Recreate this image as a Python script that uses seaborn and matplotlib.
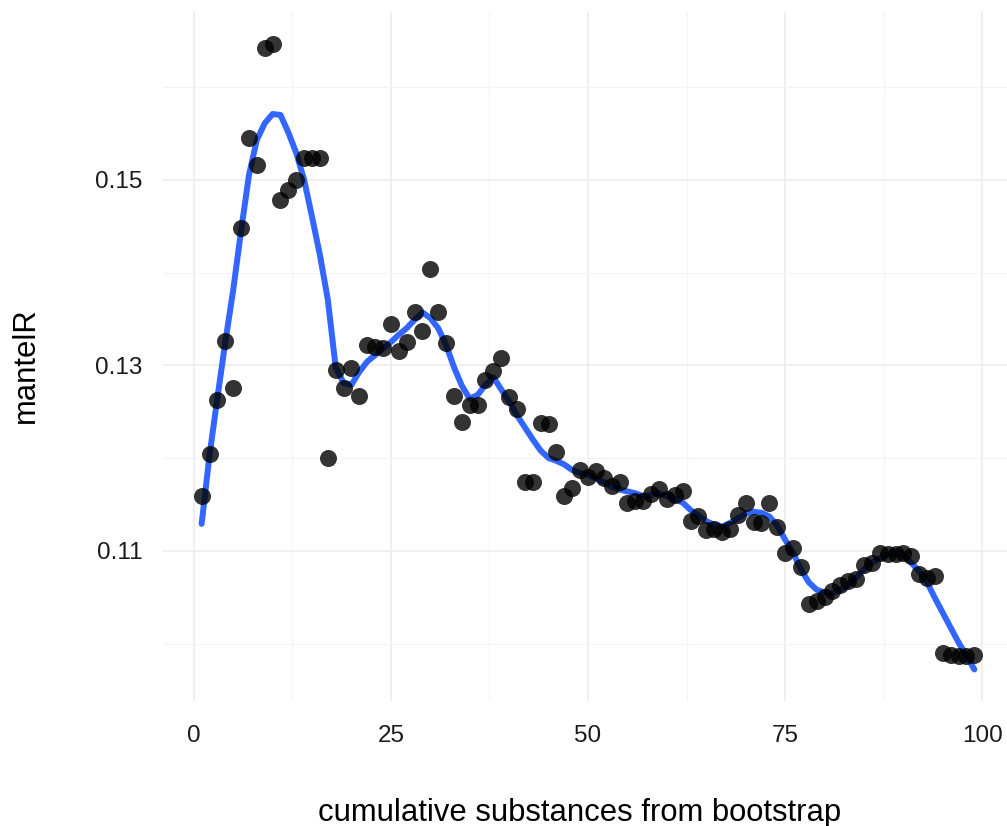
import numpy as np
import pandas as pd
import matplotlib
matplotlib.use("Agg")
import matplotlib.pyplot as plt
import seaborn as sns
from matplotlib.ticker import FixedLocator

# ---- data ----
substances = list(range(1, 100))
mantel_r = [
    0.1159, 0.1204, 0.1263, 0.1326, 0.1275, 0.1448, 0.1545, 0.1516, 0.1642, 0.1647,
    0.1478, 0.1489, 0.1500, 0.1524, 0.1524, 0.1524, 0.1200, 0.1295, 0.1276, 0.1297,
    0.1267, 0.1322, 0.1320, 0.1319, 0.1345, 0.1315, 0.1325, 0.1358, 0.1337, 0.1404,
    0.1357, 0.1324, 0.1267, 0.1239, 0.1257, 0.1257, 0.1284, 0.1294, 0.1308, 0.1266,
    0.1253, 0.1174, 0.1174, 0.1238, 0.1237, 0.1206, 0.1159, 0.1168, 0.1187, 0.1180,
    0.1186, 0.1179, 0.1170, 0.1174, 0.1152, 0.1154, 0.1154, 0.1161, 0.1167, 0.1156,
    0.1160, 0.1164, 0.1132, 0.1138, 0.1122, 0.1123, 0.1120, 0.1124, 0.1139, 0.1152,
    0.1131, 0.1130, 0.1151, 0.1126, 0.1098, 0.1103, 0.1083, 0.1043, 0.1046, 0.1050,
    0.1057, 0.1063, 0.1067, 0.1070, 0.1085, 0.1087, 0.1098, 0.1097, 0.1097, 0.1098,
    0.1094, 0.1075, 0.1071, 0.1073, 0.0990, 0.0988, 0.0987, 0.0986, 0.0988,
]
# smoothed (loess) curve
smooth_x = list(range(1, 100))
smooth_y = [
    0.1129, 0.1203, 0.1265, 0.1325, 0.1381, 0.1445, 0.1505, 0.1543, 0.1561, 0.1571,
    0.1570, 0.1551, 0.1529, 0.1500, 0.1460, 0.1419, 0.1371, 0.1298, 0.1281, 0.1279,
    0.1293, 0.1304, 0.1311, 0.1318, 0.1325, 0.1333, 0.1340, 0.1349, 0.1357, 0.1351,
    0.1340, 0.1322, 0.1298, 0.1278, 0.1264, 0.1268, 0.1279, 0.1287, 0.1274, 0.1261,
    0.1246, 0.1233, 0.1220, 0.1208, 0.1200, 0.1197, 0.1193, 0.1187, 0.1184, 0.1182,
    0.1178, 0.1174, 0.1169, 0.1166, 0.1164, 0.1162, 0.1159, 0.1160, 0.1162, 0.1159,
    0.1156, 0.1152, 0.1144, 0.1138, 0.1132, 0.1128, 0.1126, 0.1130, 0.1135, 0.1140,
    0.1142, 0.1141, 0.1137, 0.1127, 0.1112, 0.1098, 0.1080, 0.1066, 0.1058, 0.1055,
    0.1054, 0.1058, 0.1063, 0.1071, 0.1080, 0.1087, 0.1092, 0.1096, 0.1098, 0.1096,
    0.1087, 0.1078, 0.1066, 0.1049, 0.1033, 0.1017, 0.1001, 0.0987, 0.0972,
]
x_ticks = [0, 25, 50, 75, 100]
x_minor = [12.5, 37.5, 62.5, 87.5]
y_ticks = [0.11, 0.13, 0.15]
y_minor = [0.10, 0.12, 0.14, 0.16]
x_title = "cumulative substances from bootstrap"
y_title = "mantelR"

points = pd.DataFrame({"x": substances, "y": mantel_r})
curve = pd.DataFrame({"x": smooth_x, "y": smooth_y})

sns.set_theme(style="white")
plt.rcParams["font.family"] = ["Liberation Sans", "DejaVu Sans"]

fig = plt.figure(figsize=(10.07, 8.26), dpi=100)
ax = fig.add_axes([163 / 1007, 1 - 701 / 826, 850 / 1007, 689 / 826])

sns.lineplot(data=curve, x="x", y="y", ax=ax, color="#3366FF", linewidth=4.3,
             zorder=3)
sns.scatterplot(data=points, x="x", y="y", ax=ax, color="black", alpha=0.8,
                s=150, linewidth=0, zorder=4)

ax.set_xlim(-3.9, 103.9)
ax.set_ylim(0.0938, 0.1681)
ax.xaxis.set_major_locator(FixedLocator(x_ticks))
ax.xaxis.set_minor_locator(FixedLocator(x_minor))
ax.yaxis.set_major_locator(FixedLocator(y_ticks))
ax.yaxis.set_minor_locator(FixedLocator(y_minor))
ax.set_xticklabels([str(t) for t in x_ticks])
ax.set_yticklabels([f"{t:.2f}" for t in y_ticks])

ax.grid(which="major", color="#EBEBEB", linewidth=1.1)
ax.grid(which="minor", color="#F4F4F4", linewidth=0.8)
ax.set_axisbelow(True)
for s in ax.spines.values():
    s.set_visible(False)
ax.tick_params(axis="both", which="both", length=0, labelsize=17.5,
               labelcolor="#1a1a1a")
ax.tick_params(axis="x", pad=17)
ax.tick_params(axis="y", pad=15)

ax.set_xlabel(x_title, fontsize=22.3, color="black", va="baseline")
ax.xaxis.set_label_coords((580 - 163) / 850, (701 - 821) / 689)
ax.set_ylabel(y_title, fontsize=22.3, color="black", va="baseline")
ax.yaxis.set_label_coords((34 - 163) / 850, 0.5 - (365 - 356.5) / 689)

fig.savefig("out.png", dpi=100)
